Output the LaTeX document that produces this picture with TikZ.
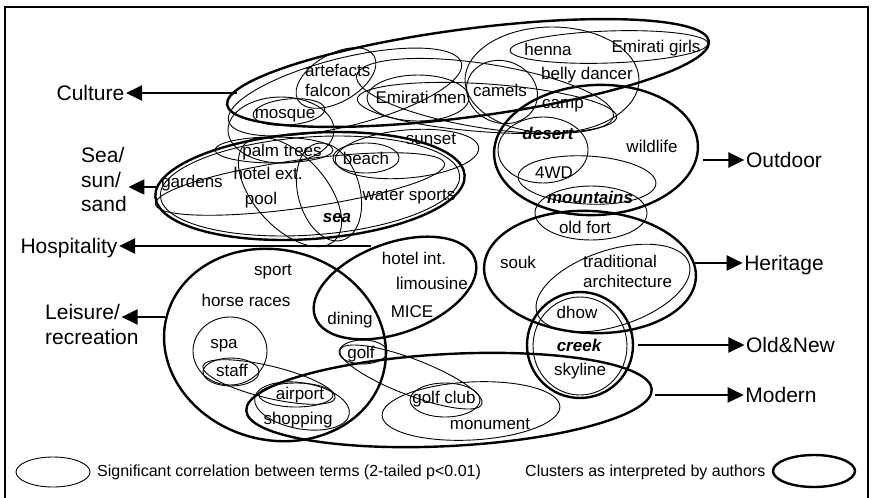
\documentclass[tikz,border=0pt]{standalone}
\usepackage{fontspec}
\setmainfont{Liberation Sans}
\usetikzlibrary{arrows.meta}
% ellipse helpers: centre x, centre y, x radius, y radius, rotation (ccw on page)
\newcommand\corrring[5]{\draw[corr,rotate around={#5:(#1,#2)}] (#1,#2) ellipse[x radius=#3,y radius=#4];}
\newcommand\clusterring[5]{\draw[clus,rotate around={#5:(#1,#2)}] (#1,#2) ellipse[x radius=#3,y radius=#4];}
\begin{document}
\begin{tikzpicture}[x=1pt,y=-1pt,
  corr/.style={line width=0.9pt},
  clus/.style={line width=2.4pt},
  term/.style={font=\fontsize{17}{19}\selectfont, inner sep=0pt, text height=12pt, text depth=0pt},
  keyterm/.style={term, font=\fontsize{17}{19}\selectfont\bfseries\itshape},
  theme/.style={font=\fontsize{21}{24}\selectfont, inner xsep=1.5pt, inner ysep=0pt, text height=15pt, text depth=0pt},
  pointer/.style={line width=2.3pt, -{Triangle[length=16pt,width=15pt]}},
  legendtxt/.style={font=\fontsize{16}{18}\selectfont, inner sep=0pt, text height=11.5pt, text depth=0pt}]
\useasboundingbox (0,0) rectangle (873,498);
% frame
\draw[line width=1.2pt] (5,498) -- (5,7) -- (868,7) -- (868,498);

% ---------- clusters (thick) ----------
\clusterring{468}{73}{243}{44}{7.5}    % culture
\clusterring{310}{186}{155}{53}{4}     % sea / sun / sand
\clusterring{596}{150}{102}{65}{3}     % outdoor
\clusterring{590}{272}{106}{61}{-3}    % heritage
\clusterring{395}{288}{85}{45}{20}     % hospitality
\clusterring{275}{345}{112}{95}{-15}   % leisure
\clusterring{580}{345}{53}{53}{0}      % old & new
\clusterring{449}{400}{203}{46}{3}     % modern

% ---------- correlations (thin) ----------
% culture
\corrring{289}{112}{36}{13}{5}
\corrring{281}{130}{53}{33}{0}
\corrring{336}{78}{44}{24}{30}
\corrring{345}{92}{120}{34}{14}
\corrring{418}{98}{51}{23}{0}
\corrring{487}{108}{130}{24}{-4}
\corrring{485}{96}{130}{32}{-9}
\corrring{502}{92}{36}{31}{-20}
\corrring{552}{80}{87}{53}{0}
\corrring{609}{47}{99}{16}{2}
% sea / sun / sand
\corrring{310}{186}{150}{49}{4}
\corrring{274}{150}{59}{13}{0}
\corrring{300}{184}{146}{24}{8}
\corrring{290}{192}{66}{36}{-48}
\corrring{329}{192}{50}{31}{-75}
\corrring{366}{158}{33}{15}{0}
\corrring{407}{154}{72}{24}{5}
% outdoor
\corrring{543}{150}{45}{33}{0}
\corrring{587}{180}{69}{24}{-3}
\corrring{591}{213}{56}{27}{0}
% heritage / old & new
\corrring{613}{288}{80}{38}{18}
\corrring{580}{346}{47}{49}{0}
% leisure / modern
\corrring{230}{351}{37}{34}{0}
\corrring{231}{372}{28}{14}{0}
\corrring{269}{382}{68}{16}{-13.6}
\corrring{296}{395}{37}{12}{0}
\corrring{302}{406}{48}{23}{-10}
\corrring{363}{352}{24}{12}{0}
\corrring{411}{377}{76}{18}{-21}
\corrring{445}{400}{35}{17}{0}
\corrring{471}{411}{89}{29}{3}

% ---------- terms ----------
\node[term, anchor=west] (artefacts) at (305,70) {artefacts};
\node[term, anchor=west] (falcon) at (305,90) {falcon};
\node[term] (mosque) at (285,112) {mosque};
\node[term] (emen) at (421,97) {Emirati men};
\node[term] (camels) at (500,90) {camels};
\node[term] (henna) at (548,49) {henna};
\node[term] (egirls) at (656,46) {Emirati girls};
\node[term] (belly) at (587,73) {belly dancer};
\node[term] (camp) at (563,102) {camp};
\node[keyterm] (desert) at (548,133) {desert};
\node[term] (wildlife) at (652,146) {wildlife};
\node[term] (fwd) at (554,172) {4WD};
\node[keyterm] (mountains) at (590,197) {mountains};
\node[term] (oldfort) at (585,227) {old fort};
\node[term] (sunset) at (431,138) {sunset};
\node[term] (palm) at (282,150) {palm trees};
\node[term] (beach) at (366,158) {beach};
\node[term] (hotelext) at (268,173) {hotel ext.};
\node[term] (gardens) at (192,181) {gardens};
\node[term] (pool) at (261,198) {pool};
\node[term] (water) at (409,194) {water sports};
\node[keyterm] (sea) at (337,216) {sea};
\node[term] (hotelint) at (414,258) {hotel int.};
\node[term] (limo) at (432,283) {limousine};
\node[term] (mice) at (412,311) {MICE};
\node[term] (dining) at (350,318) {dining};
\node[term] (sport) at (273,269) {sport};
\node[term] (horse) at (246,300) {horse races};
\node[term] (spa) at (224,342) {spa};
\node[term] (staff) at (232,370) {staff};
\node[term] (golf) at (361,352) {golf};
\node[term] (airport) at (300,393) {airport};
\node[term] (shopping) at (298,418) {shopping};
\node[term] (golfclub) at (444,397) {golf club};
\node[term] (monument) at (490,423) {monument};
\node[term] (souk) at (518,262) {souk};
\node[term, anchor=west] (trad) at (583,261) {traditional};
\node[term, anchor=west] (arch) at (583,281) {architecture};
\node[term] (dhow) at (577,312) {dhow};
\node[keyterm] (creek) at (579,345) {creek};
\node[term] (skyline) at (580,369) {skyline};

% ---------- themes ----------
\node[theme] (culture) at (90.5,93) {Culture};
\node[theme, anchor=west] (seaA) at (79.5,155) {Sea/};
\node[theme, anchor=west] (seaB) at (79.5,180) {sun/};
\node[theme, anchor=west] (seaC) at (79.5,204) {sand};
\node[theme] (hosp) at (69,246) {Hospitality};
\node[theme, anchor=west] (leisA) at (43.5,312) {Leisure/};
\node[theme, anchor=west] (leisB) at (43.5,337) {recreation};
\node[theme] (outdoor) at (784,160) {Outdoor};
\node[theme] (heritage) at (784,263) {Heritage};
\node[theme] (oldnew) at (790.5,345) {Old\&New};
\node[theme] (modern) at (781,395) {Modern};

% arrow start points on the cluster outlines
\coordinate (cultureStart) at (237,93);
\coordinate (seaStart) at (156,187);
\coordinate (hospStart) at (371,246);
\coordinate (leisStart) at (165,317);
\coordinate (outdoorStart) at (703,160);
\coordinate (heritageStart) at (695,263);
\coordinate (oldnewStart) at (638,345);
\coordinate (modernStart) at (655,395);

\draw[pointer] (cultureStart) -- (cultureStart -| culture.east);
\draw[pointer] (seaStart) -- (seaStart -| seaC.east);
\draw[pointer] (hospStart) -- (hospStart -| hosp.east);
\draw[pointer] (leisStart) -- (leisStart -| leisA.east);
\draw[pointer] (outdoorStart) -- (outdoorStart -| outdoor.west);
\draw[pointer] (heritageStart) -- (heritageStart -| heritage.west);
\draw[pointer] (oldnewStart) -- (oldnewStart -| oldnew.west);
\draw[pointer] (modernStart) -- (modernStart -| modern.west);

% ---------- legend ----------
\corrring{53}{472}{37}{15}{0}
\node[legendtxt, anchor=west] (legcorr) at (97,471) {Significant correlation between terms (2-tailed p<0.01)};
\node[legendtxt, anchor=west] (legclus) at (525,471) {Clusters as interpreted by authors};
\clusterring{814}{471}{41}{16}{0}
\end{tikzpicture}
\end{document}
